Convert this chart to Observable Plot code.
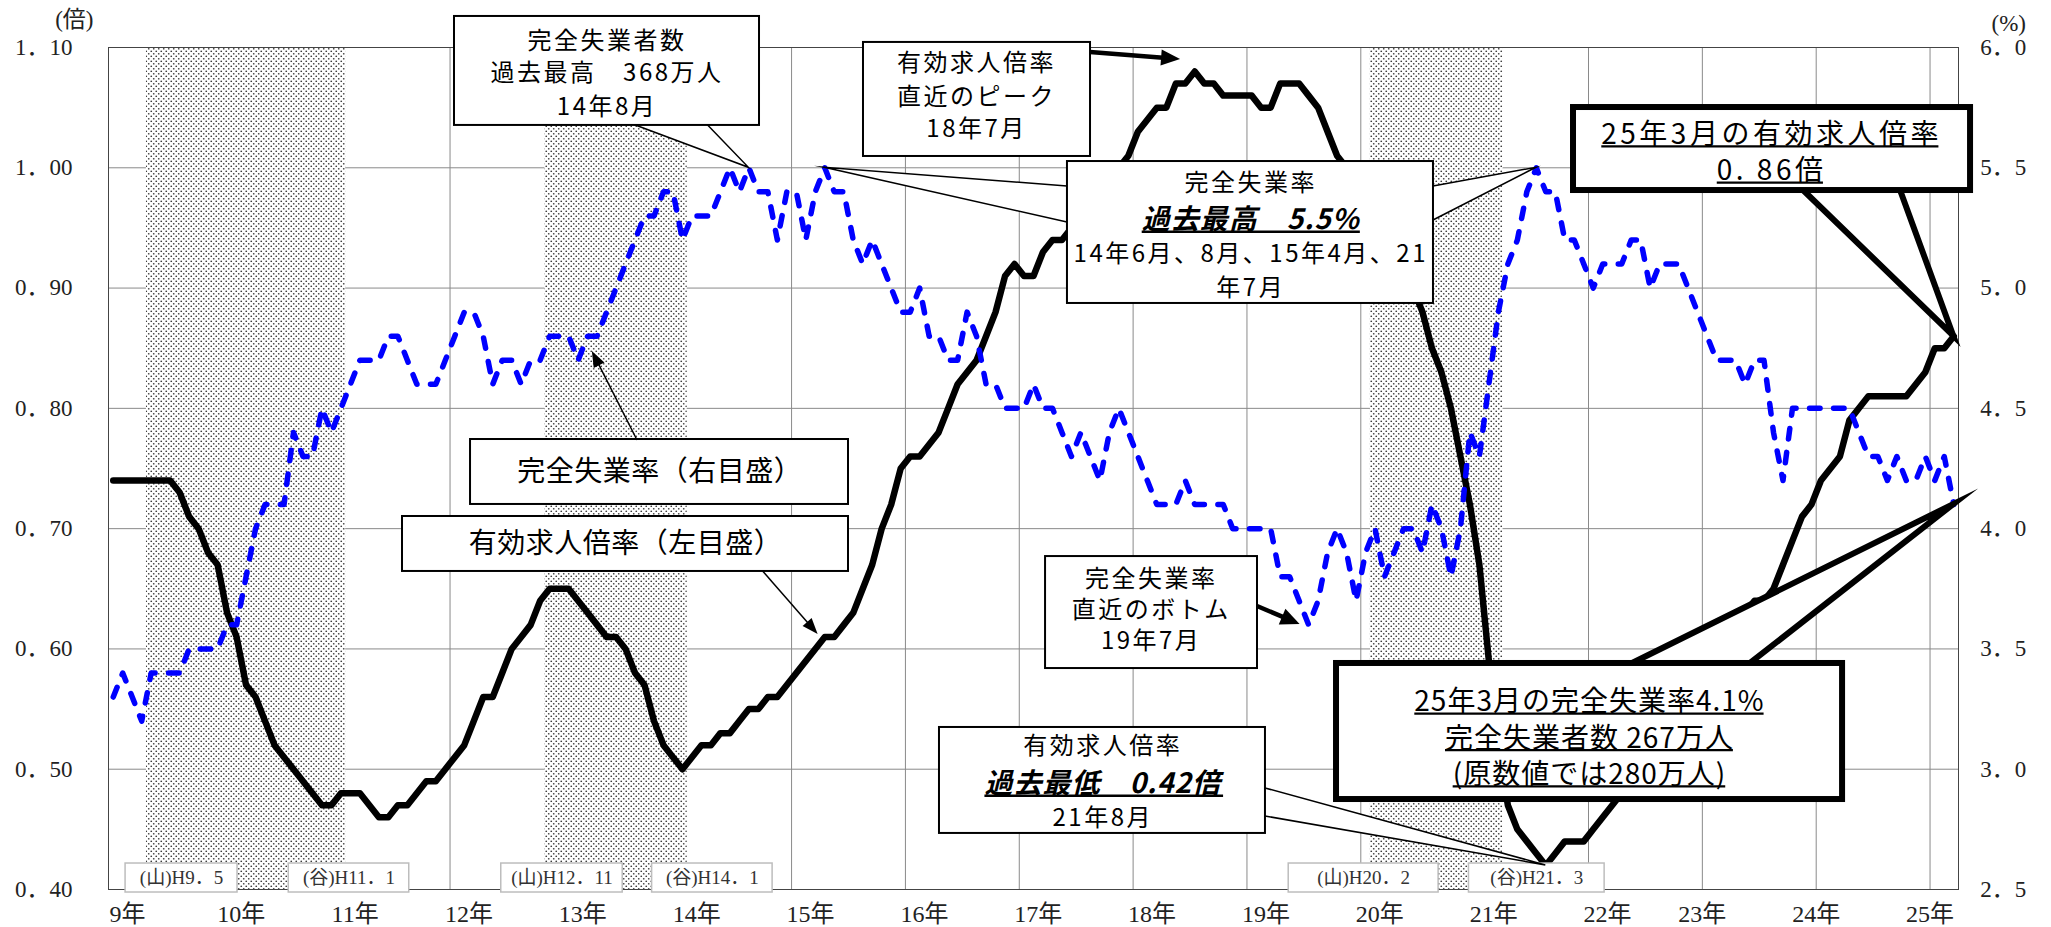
<!DOCTYPE html>
<html><head><meta charset="utf-8">
<script src="https://cdn.jsdelivr.net/npm/d3@7"></script>
<script src="https://cdn.jsdelivr.net/npm/@observablehq/plot@0.6"></script>
<style>
body{margin:0;background:#fff}
svg{display:block}
</style>
</head><body><div id="chart"></div>
<script>
// 有効求人倍率（季節調整値, 倍） 1997年1月〜2013年3月
const jobsRatio = [
  0.74,0.74,0.74,0.74,0.74,0.74,0.74,0.73,0.71,0.70,0.68,0.67, // 9年
  0.63,0.61,0.57,0.56,0.54,0.52,0.51,0.50,0.49,0.48,0.47,0.47, // 10年
  0.48,0.48,0.48,0.47,0.46,0.46,0.47,0.47,0.48,0.49,0.49,0.50, // 11年
  0.51,0.52,0.54,0.56,0.56,0.58,0.60,0.61,0.62,0.64,0.65,0.65, // 12年
  0.65,0.64,0.63,0.62,0.61,0.61,0.60,0.58,0.57,0.54,0.52,0.51, // 13年
  0.50,0.51,0.52,0.52,0.53,0.53,0.54,0.55,0.55,0.56,0.56,0.57, // 14年
  0.58,0.59,0.60,0.61,0.61,0.62,0.63,0.65,0.67,0.70,0.72,0.75, // 15年
  0.76,0.76,0.77,0.78,0.80,0.82,0.83,0.84,0.86,0.88,0.91,0.92, // 16年
  0.91,0.91,0.93,0.94,0.94,0.95,0.96,0.97,0.98,0.99,1.00,1.01, // 17年
  1.03,1.04,1.05,1.05,1.07,1.07,1.08,1.07,1.07,1.06,1.06,1.06, // 18年
  1.06,1.05,1.05,1.07,1.07,1.07,1.06,1.05,1.03,1.01,1.00,0.99, // 19年
  0.98,0.97,0.95,0.94,0.92,0.90,0.88,0.85,0.83,0.80,0.76,0.72, // 20年
  0.67,0.59,0.52,0.47,0.45,0.44,0.43,0.42,0.43,0.44,0.44,0.44, // 21年
  0.45,0.46,0.47,0.48,0.49,0.50,0.51,0.52,0.54,0.55,0.56,0.58, // 22年
  0.61,0.62,0.62,0.63,0.63,0.64,0.64,0.65,0.67,0.69,0.71,0.72, // 23年
  0.74,0.75,0.76,0.79,0.80,0.81,0.81,0.81,0.81,0.81,0.82,0.83, // 24年
  0.85,0.85,0.86                                               // 25年
];
// 完全失業率（季節調整値, %）
const unemploymentRate = [
  3.3,3.4,3.3,3.2,3.4,3.4,3.4,3.4,3.5,3.5,3.5,3.5,
  3.6,3.6,3.8,4.0,4.1,4.1,4.1,4.4,4.3,4.3,4.5,4.4,
  4.5,4.6,4.7,4.7,4.7,4.8,4.8,4.7,4.6,4.6,4.6,4.7,
  4.8,4.9,4.9,4.8,4.6,4.7,4.7,4.6,4.7,4.7,4.8,4.8,
  4.8,4.7,4.8,4.8,4.9,5.0,5.1,5.2,5.3,5.3,5.4,5.4,
  5.2,5.3,5.3,5.3,5.4,5.5,5.4,5.5,5.4,5.4,5.2,5.4,
  5.4,5.2,5.4,5.5,5.4,5.4,5.2,5.1,5.2,5.1,5.0,4.9,
  4.9,5.0,4.8,4.8,4.7,4.7,4.9,4.8,4.6,4.6,4.5,4.5,
  4.5,4.6,4.5,4.5,4.4,4.3,4.4,4.3,4.2,4.4,4.5,4.4,
  4.3,4.2,4.1,4.1,4.1,4.2,4.1,4.1,4.1,4.1,4.0,4.0,
  4.0,4.0,4.0,3.8,3.8,3.7,3.6,3.7,3.9,4.0,3.9,3.7,
  3.9,4.0,3.8,3.9,4.0,4.0,3.9,4.1,4.0,3.8,4.0,4.4,
  4.3,4.6,4.9,5.1,5.2,5.4,5.5,5.4,5.4,5.2,5.2,5.1,
  5.0,5.1,5.1,5.1,5.2,5.2,5.0,5.1,5.1,5.1,5.0,4.9,
  4.8,4.7,4.7,4.7,4.6,4.7,4.7,4.4,4.2,4.5,4.5,4.5,
  4.5,4.5,4.5,4.5,4.4,4.3,4.3,4.2,4.3,4.2,4.2,4.3,
  4.2,4.3,4.1
];
const yearLabels = ["9年","10年","11年","12年","13年","14年","15年","16年","17年","18年","19年","20年","21年","22年","23年","24年","25年"];
const yearLabelMonth = [2,14,26,38,50,62,74,86,98,110,122,134,146,158,168,180,192];
const leftTicks = [0.40,0.50,0.60,0.70,0.80,0.90,1.00,1.10];
const leftTickLabels = ["0．40","0．50","0．60","0．70","0．80","0．90","1．00","1．10"];
const rightTickLabels = ["2．5","3．0","3．5","4．0","4．5","5．0","5．5","6．0"];
// 景気基準日付（月インデックス: 0 = 9年1月）
const recessions = [
  {start: 4, end: 24},
  {start: 46, end: 60},
  {start: 133, end: 146}
];
const recessionLabelBoxes = [
  {t1: 1.8, t2: 13.6, text: "(山)H9．5"},
  {t1: 19.0, t2: 31.7, text: "(谷)H11．1"},
  {t1: 41.4, t2: 54.2, text: "(山)H12．11"},
  {t1: 57.3, t2: 70.0, text: "(谷)H14．1"},
  {t1: 124.4, t2: 140.2, text: "(山)H20．2"},
  {t1: 143.4, t2: 157.7, text: "(谷)H21．3"}
];

const toLeft = r => 0.4 + (r - 2.5) / 5;
const months = jobsRatio.map((v, i) => ({t: i + 0.5, jobs: v, unempL: toLeft(unemploymentRate[i])}));
const jp = (i) => [i + 0.5, jobsRatio[i]];
const up = (i) => [i + 0.5, toLeft(unemploymentRate[i])];

// annotation layout (x: month index, y: left-axis value)
const boxesThin = [
  {t1:36.47, t2:68.62, v1:1.0352, v2:1.1258},
  {t1:79.58, t2:103.51, v1:1.0094, v2:1.1042},
  {t1:101.08, t2:139.66, v1:0.8872, v2:1.0052},
  {t1:38.16, t2:78.0, v1:0.7201, v2:0.7741},
  {t1:30.99, t2:78.0, v1:0.6644, v2:0.7101},
  {t1:98.77, t2:121.11, v1:0.5837, v2:0.6768},
  {t1:87.59, t2:121.95, v1:0.4466, v2:0.5347}
];
const boxesThick = [
  {t1:154.42, t2:196.27, v1:0.9811, v2:1.0501},
  {t1:129.44, t2:182.78, v1:0.4748, v2:0.5879}
];
const wedges = [
  {b0:[55.3,1.036], b1:[63.1,1.036], apex: up(67), w:1.5},
  {b0:[101.08,0.9844], b1:[101.08,0.9545], apex: up(75), w:1.5},
  {b0:[139.66,0.9844], b1:[139.66,0.9562], apex: up(150), w:1.5},
  {b0:[121.95,0.4840], b1:[121.95,0.4607], apex: jp(151), w:1.5},
  {b0:[178.66,0.9811], b1:[188.89,0.9811], apex: jp(194), w:6},
  {b0:[160.64,0.5879], b1:[173.08,0.5879], apex: up(194), w:6}
];
const arrows = [
  {from:[103.51,1.0958], to:[113.0,1.090], w:4.5, L:19, W:8},
  {from:[55.76,0.7733], to:[51.0,0.8473], w:1.5, L:16, W:6},
  {from:[69.0,0.6644], to:[74.8,0.612], w:1.5, L:16, W:6},
  {from:[121.11,0.6353], to:[125.6,0.6203], w:4.5, L:19, W:8.5}
];
const text24 = [
  {t:52.55, v:1.105, s:"完全失業者数"},
  {t:52.55, v:1.0784, s:"過去最高　368万人"},
  {t:52.55, v:1.0501, s:"14年8月"},
  {t:91.5, v:1.0867, s:"有効求人倍率"},
  {t:91.5, v:1.0584, s:"直近のピーク"},
  {t:91.5, v:1.0318, s:"18年7月"},
  {t:120.4, v:0.9869, s:"完全失業率"},
  {t:120.4, v:0.9279, s:"14年6月、8月、15年4月、21"},
  {t:120.4, v:0.8997, s:"年7月"},
  {t:109.9, v:0.6577, s:"完全失業率"},
  {t:109.9, v:0.6320, s:"直近のボトム"},
  {t:109.9, v:0.6062, s:"19年7月"},
  {t:104.8, v:0.5189, s:"有効求人倍率"},
  {t:104.8, v:0.4590, s:"21年8月"}
];
const textEmph = [
  {t:120.4, v:0.9562, s:"過去最高　5.5%"},
  {t:104.8, v:0.4873, s:"過去最低　0.42倍"}
];
const textLegend = [
  {t:58.1, v:0.7471, s:"完全失業率（右目盛）"},
  {t:54.5, v:0.6872, s:"有効求人倍率（左目盛）"}
];
const textBoxH = ["25年3月の有効求人倍率\n0. 86倍"];
const textBoxI = ["25年3月の完全失業率4.1%\n完全失業者数 267万人\n(原数値では280万人)"];

const SANS = "'Noto Sans CJK JP', 'Noto Sans', sans-serif";
const SERIF = "'Liberation Serif', 'DejaVu Serif', 'Noto Sans CJK JP', serif";

function defsMark() {
  const defs = d3.create("svg:defs");
  const p = defs.append("pattern").attr("id", "dots").attr("patternUnits", "userSpaceOnUse")
    .attr("width", 5).attr("height", 5);
  p.append("rect").attr("width", 5).attr("height", 5).attr("fill", "white");
  p.append("circle").attr("cx", 1.25).attr("cy", 1.25).attr("r", 0.85).attr("fill", "#3a3a3a");
  p.append("circle").attr("cx", 3.75).attr("cy", 3.75).attr("r", 0.85).attr("fill", "#3a3a3a");
  return defs.node();
}
function wedgeMark(index, scales) {
  const g = d3.create("svg:g");
  for (const w of wedges) {
    const P = ([t, v]) => `${scales.x(t)},${scales.y(v)}`;
    g.append("path").attr("d", `M${P(w.b0)}L${P(w.apex)}L${P(w.b1)}`)
      .attr("fill", "white").attr("stroke", "black").attr("stroke-width", w.w)
      .attr("stroke-linejoin", "miter").attr("stroke-miterlimit", 20);
  }
  return g.node();
}
function arrowMark(index, scales) {
  const g = d3.create("svg:g");
  for (const a of arrows) {
    const x1 = scales.x(a.from[0]), y1 = scales.y(a.from[1]);
    const x2 = scales.x(a.to[0]), y2 = scales.y(a.to[1]);
    const ang = Math.atan2(y2 - y1, x2 - x1);
    const bx = x2 - a.L * Math.cos(ang), by = y2 - a.L * Math.sin(ang);
    g.append("line").attr("x1", x1).attr("y1", y1).attr("x2", bx + 2 * Math.cos(ang)).attr("y2", by + 2 * Math.sin(ang))
      .attr("stroke", "black").attr("stroke-width", a.w);
    g.append("path").attr("d",
      `M${x2},${y2}L${bx + a.W * Math.sin(ang)},${by - a.W * Math.cos(ang)}L${bx - a.W * Math.sin(ang)},${by + a.W * Math.cos(ang)}Z`)
      .attr("fill", "black");
  }
  return g.node();
}

const chart = Plot.plot({
  width: 2051, height: 927,
  marginLeft: 108, marginRight: 93, marginTop: 47, marginBottom: 38,
  x: {domain: [0, 195], axis: null},
  y: {domain: [0.4, 1.1], axis: null},
  style: {background: "white", overflow: "visible"},
  marks: [
    defsMark,
    Plot.ruleY(leftTicks.slice(1, -1), {stroke: "#8a8a8a", strokeWidth: 1}),
    Plot.ruleX(d3.range(12, 195, 12), {stroke: "#8a8a8a", strokeWidth: 1}),
    Plot.rect(recessions, {x1: "start", x2: d => d.end + 1, y1: 0.4, y2: 1.1, fill: "url(#dots)"}),
    Plot.frame({stroke: "#444", strokeWidth: 1}),
    // axes
    Plot.text(leftTicks, {x: -3.8, y: d => d, text: (d, i) => leftTickLabels[i], textAnchor: "end", lineAnchor: "middle", fontSize: 23, fontFamily: SERIF, fill: "#222"}),
    Plot.text(leftTicks, {x: 197.3, y: d => d, text: (d, i) => rightTickLabels[i], textAnchor: "start", lineAnchor: "middle", fontSize: 23, fontFamily: SERIF, fill: "#222"}),
    Plot.text(yearLabels, {x: (d, i) => yearLabelMonth[i], y: 0.3792, text: d => d, textAnchor: "middle", lineAnchor: "middle", fontSize: 24, fontFamily: SERIF, fill: "#222"}),
    Plot.text(["(倍)"], {x: -3.6, y: 1.123, text: d => d, textAnchor: "middle", lineAnchor: "middle", fontSize: 23, fontFamily: SERIF, fill: "#222"}),
    Plot.text(["(%)"], {x: 200.3, y: 1.12, text: d => d, textAnchor: "middle", lineAnchor: "middle", fontSize: 23, fontFamily: SERIF, fill: "#222"}),
    // data
    Plot.line(months, {x: "t", y: "jobs", stroke: "black", strokeWidth: 6.5, strokeLinejoin: "round", strokeLinecap: "round"}),
    Plot.line(months, {x: "t", y: "unempL", stroke: "#0000ff", strokeWidth: 5.5, strokeDasharray: "10.5,13.5", strokeLinecap: "round", strokeLinejoin: "round"}),
    // business-cycle labels
    Plot.rect(recessionLabelBoxes, {x1: "t1", x2: "t2", y1: 0.3975, y2: 0.4216, fill: "white", stroke: "#bdbdbd", strokeWidth: 1.5}),
    Plot.text(recessionLabelBoxes, {x: d => (d.t1 + d.t2) / 2, y: 0.4095, text: "text", textAnchor: "middle", lineAnchor: "middle", fontSize: 19, fontFamily: SERIF, fill: "#333"}),
    // annotations
    wedgeMark,
    Plot.rect(boxesThin, {x1: "t1", x2: "t2", y1: "v1", y2: "v2", fill: "white", stroke: "black", strokeWidth: 2}),
    Plot.rect(boxesThick, {x1: "t1", x2: "t2", y1: "v1", y2: "v2", fill: "white", stroke: "black", strokeWidth: 6}),
    arrowMark,
    Plot.text(text24, {x: "t", y: "v", text: "s", textAnchor: "middle", lineAnchor: "middle", fontSize: 24, fontFamily: SANS, fill: "black"}),
    Plot.text(textEmph, {x: "t", y: "v", text: "s", textAnchor: "middle", lineAnchor: "middle", fontSize: 28, fontFamily: SANS, fontWeight: "bold", fontStyle: "italic", fill: "black"}),
    Plot.text(textLegend, {x: "t", y: "v", text: "s", textAnchor: "middle", lineAnchor: "middle", fontSize: 28, fontFamily: SANS, fill: "black"}),
    Plot.text(textBoxH, {x: 175.3, y: 1.0144, text: d => d, textAnchor: "middle", lineAnchor: "middle", lineHeight: 1.3, fontSize: 28, fontFamily: SANS, fill: "black"}),
    Plot.text(textBoxI, {x: 156.1, y: 0.5276, text: d => d, textAnchor: "middle", lineAnchor: "middle", lineHeight: 1.3, fontSize: 28, fontFamily: SANS, fill: "black"})
  ]
});
document.getElementById("chart").appendChild(chart);

// text styling: letter spacing and underlines
const styleRules = new Map();
text24.forEach(d => styleRules.set(d.s, {ls: 2.5, ul: false}));
textEmph.forEach(d => styleRules.set(d.s, {ls: 1, ul: true, fs: 28, uw: 2.5}));
textLegend.forEach(d => styleRules.set(d.s, {ls: 0.5, ul: false}));
textBoxH.forEach(d => styleRules.set(d.replace(/\n/g, ""), {ls: 3.5, ul: true, fs: 28, uw: 2.2}));
textBoxI.forEach(d => styleRules.set(d.replace(/\n/g, ""), {ls: 1, ul: true, fs: 28, uw: 2.2}));
const toUnderline = [];
d3.select(chart).selectAll("text").each(function() {
  const r = styleRules.get(this.textContent);
  if (!r) return;
  this.style.letterSpacing = r.ls + "px";
  if (r.ul) toUnderline.push([this, r]);
});
for (const [el, r] of toUnderline) {
  const parts = el.querySelectorAll("tspan");
  const els = parts.length ? Array.from(parts) : [el];
  for (const e of els) {
    const b = e.getBBox();
    const y = b.y + b.height - r.fs * 0.2;
    const line = document.createElementNS("http://www.w3.org/2000/svg", "line");
    line.setAttribute("x1", b.x);
    line.setAttribute("x2", b.x + b.width - r.ls);
    line.setAttribute("y1", y);
    line.setAttribute("y2", y);
    line.setAttribute("stroke", "black");
    line.setAttribute("stroke-width", r.uw);
    const tr = el.getAttribute("transform");
    if (tr) line.setAttribute("transform", tr);
    el.parentNode.appendChild(line);
  }
}
</script>
</body></html>
